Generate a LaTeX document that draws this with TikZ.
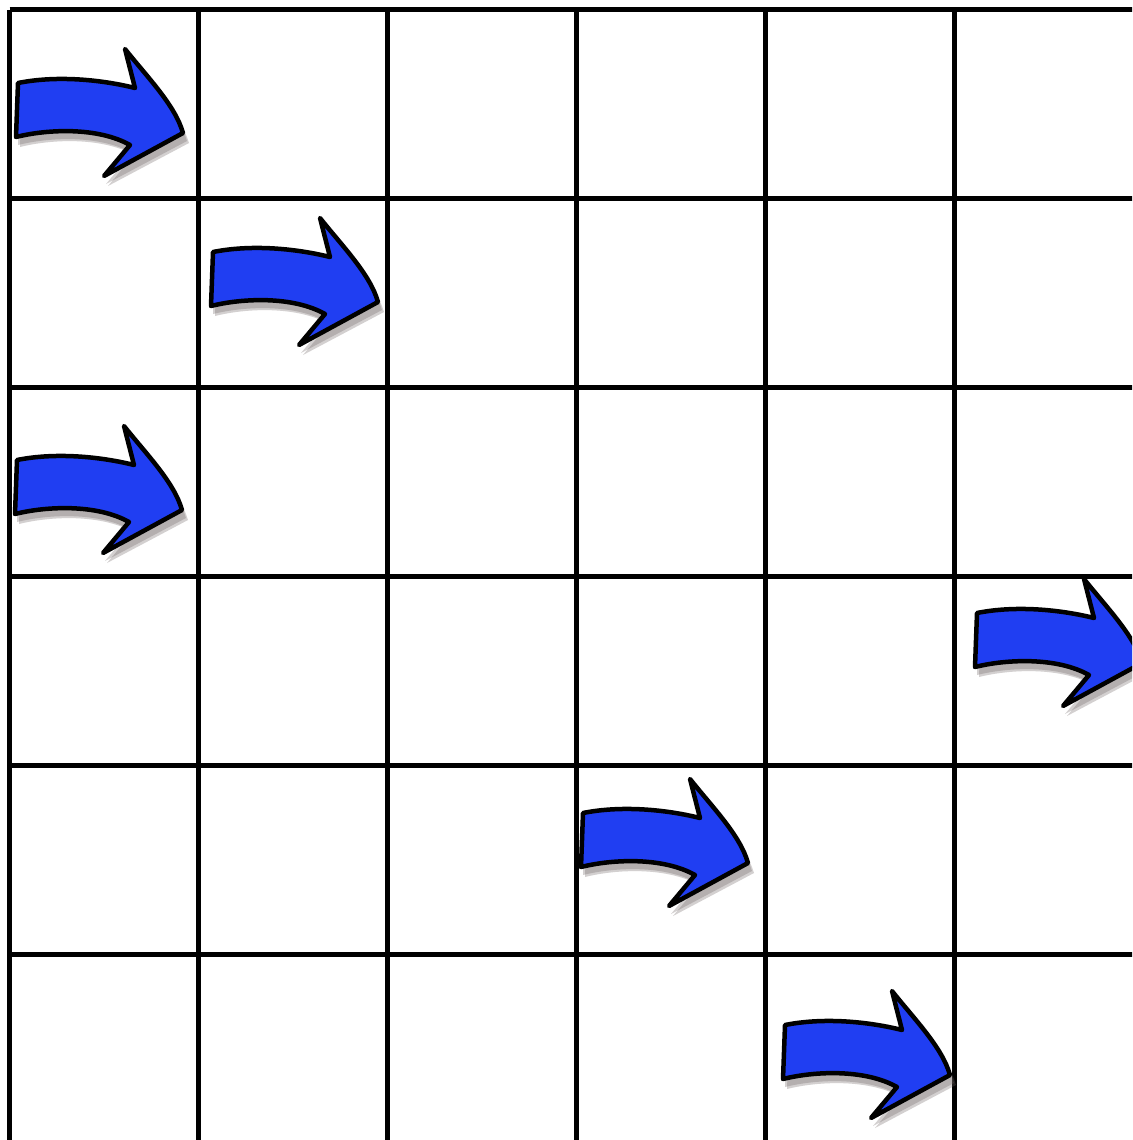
\documentclass[tikz,border=0pt]{standalone}
\definecolor{arrowblue}{RGB}{32,62,242}
\definecolor{shadowgray}{RGB}{110,100,100}
\tikzset{
  gridline/.style={line width=5pt, black},
  arrowbody/.style={fill=arrowblue, draw=black, line width=4.5pt, line join=round},
  arrowshadow/.style={fill=shadowgray, opacity=0.3},
  pics/bentarrow/.style={code={
    \path[arrowshadow] (2,6) .. controls (42,-2) and (87,3) .. (119,11) -- (109,-28) .. controls (132,1) and (160,28) .. (169,58) -- (88,101) -- (114,70) .. controls (82,52) and (32,54) .. (0,62) -- cycle;
    \path[arrowshadow] (4,8) .. controls (44,0) and (89,5) .. (121,13) -- (111,-26) .. controls (134,3) and (162,30) .. (171,60) -- (90,103) -- (116,72) .. controls (84,54) and (34,56) .. (2,64) -- cycle;
    \path[arrowbody] (0,0) .. controls (40,-8) and (85,-3) .. (117,5) -- (107,-34) .. controls (130,-5) and (157,22) .. (165,50) -- (86,93) -- (112,62) .. controls (80,44) and (30,46) .. (-2,54) -- cycle;
  }}
}
\begin{document}
\begin{tikzpicture}[x=1pt,y=-1pt]
\useasboundingbox (0,0) rectangle (1132,1140);
\fill[white] (0,0) rectangle (1132,1140);
\begin{scope}
\clip (0,0) rectangle (1132,1140);
\foreach \k in {0,...,5} {
  \draw[gridline] (9.7+189*\k,9.7) -- (9.7+189*\k,1145);
  \draw[gridline] (9.7,9.7+189*\k) -- (1140,9.7+189*\k);
}
\pic at (18,83) {bentarrow};
\pic at (213,252) {bentarrow};
\pic at (17,460) {bentarrow};
\pic at (977,613) {bentarrow};
\pic at (583,813) {bentarrow};
\pic at (785,1025) {bentarrow};
\end{scope}
\end{tikzpicture}
\end{document}
